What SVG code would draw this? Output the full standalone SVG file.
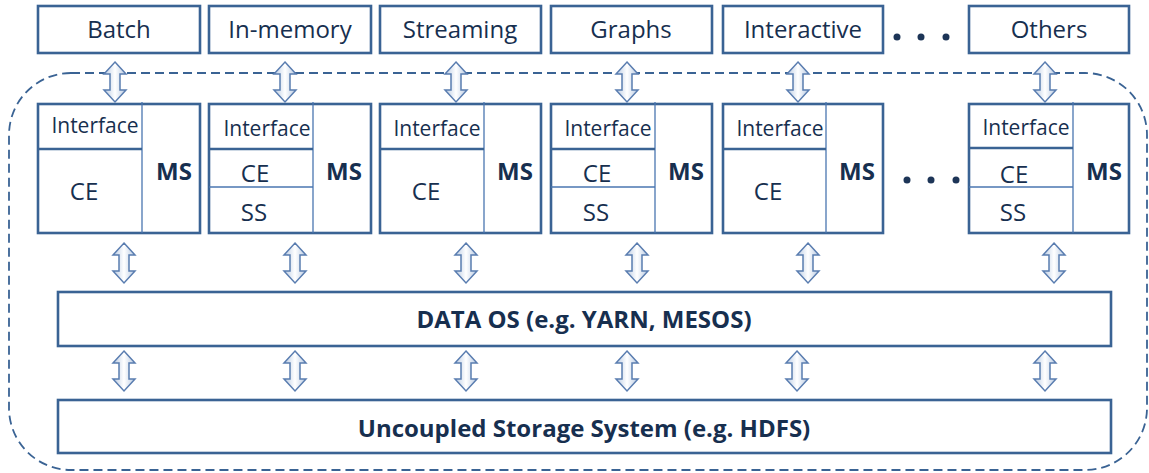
<svg xmlns="http://www.w3.org/2000/svg" xmlns:xlink="http://www.w3.org/1999/xlink" width="1149" height="473" viewBox="0 0 1149 473">
<style>
.box{fill:#fff;stroke:#3a6394;stroke-width:2.6}
.div{stroke:#4a76b0;stroke-width:1.3;fill:none}
.ifl{stroke:#3a6394;stroke-width:2.6;fill:none}
.t{font-family:"Open Sans","Liberation Sans",sans-serif;fill:#172f4f;text-anchor:middle}
.top{font-size:24px}
.ifc{font-size:21px}
.ce{font-size:24px}
.ms{font-size:24px;font-weight:bold}
.big{font-size:24px;font-weight:bold}
.dot{fill:#1d3557}
.arr{fill:url(#ag);stroke:#5a7db0;stroke-width:1.5;stroke-linejoin:miter}
.border{fill:none;stroke:#3a6394;stroke-width:1.8;stroke-dasharray:9 5}
</style>
<defs>
<linearGradient id="ag" x1="0" y1="0" x2="1" y2="0">
<stop offset="0" stop-color="#b7c9e2"/>
<stop offset="0.5" stop-color="#ffffff"/>
<stop offset="1" stop-color="#b7c9e2"/>
</linearGradient>
<path id="arr" class="arr" d="M0,0 L11,12 L5,12 L5,28 L11,28 L0,40 L-11,28 L-5,28 L-5,12 L-11,12 Z"/>
</defs>

<rect class="border" x="9" y="73" width="1138" height="397" rx="62" ry="62"/>

<g id="batch"><rect class="box" x="38" y="6" width="162" height="47"/><text class="t top" x="119" y="38">Batch</text></g>
<g id="inmemory"><rect class="box" x="209" y="6" width="162" height="47"/><text class="t top" x="290" y="38">In-memory</text></g>
<g id="streaming"><rect class="box" x="380" y="6" width="161" height="47"/><text class="t top" x="460" y="38">Streaming</text></g>
<g id="graphs"><rect class="box" x="551" y="6" width="161" height="47"/><text class="t top" x="631" y="38">Graphs</text></g>
<g id="interactive"><rect class="box" x="723" y="6" width="160" height="47"/><text class="t top" x="803" y="38">Interactive</text></g>
<g id="dots-top"><circle class="dot" cx="897" cy="37" r="3.5"/><circle class="dot" cx="921" cy="37" r="3.5"/><circle class="dot" cx="946" cy="37" r="3.5"/></g>
<g id="others"><rect class="box" x="969" y="6" width="160" height="47"/><text class="t top" x="1049" y="38">Others</text></g>

<g id="engine1">
<rect class="box" x="38" y="104" width="162" height="129"/>
<line class="div" x1="142" y1="102" x2="142" y2="233"/>
<line class="ifl" x1="38" y1="149" x2="142" y2="149"/>
<text class="t ifc" x="95" y="133">Interface</text>
<text class="t ce" x="84" y="200">CE</text>
<text class="t ms" x="174" y="180">MS</text>
</g>
<g id="engine2">
<rect class="box" x="209" y="104" width="162" height="129"/>
<line class="div" x1="313" y1="102" x2="313" y2="233"/>
<line class="ifl" x1="209" y1="149" x2="313" y2="149"/>
<line class="div" x1="209" y1="187" x2="313" y2="187"/>
<text class="t ifc" x="267" y="136">Interface</text>
<text class="t ce" x="255" y="182">CE</text>
<text class="t ce" x="254" y="221">SS</text>
<text class="t ms" x="344" y="180">MS</text>
</g>
<g id="engine3">
<rect class="box" x="380" y="104" width="161" height="129"/>
<line class="div" x1="484" y1="102" x2="484" y2="233"/>
<line class="ifl" x1="380" y1="149" x2="484" y2="149"/>
<text class="t ifc" x="437" y="136">Interface</text>
<text class="t ce" x="426" y="200">CE</text>
<text class="t ms" x="515" y="180">MS</text>
</g>
<g id="engine4">
<rect class="box" x="551" y="104" width="161" height="129"/>
<line class="div" x1="655" y1="102" x2="655" y2="233"/>
<line class="ifl" x1="551" y1="149" x2="655" y2="149"/>
<line class="div" x1="551" y1="187" x2="655" y2="187"/>
<text class="t ifc" x="608" y="136">Interface</text>
<text class="t ce" x="597" y="182">CE</text>
<text class="t ce" x="596" y="221">SS</text>
<text class="t ms" x="686" y="180">MS</text>
</g>
<g id="engine5">
<rect class="box" x="723" y="104" width="160" height="129"/>
<line class="div" x1="826" y1="102" x2="826" y2="233"/>
<line class="ifl" x1="723" y1="149" x2="826" y2="149"/>
<text class="t ifc" x="780" y="136">Interface</text>
<text class="t ce" x="768" y="200">CE</text>
<text class="t ms" x="857" y="180">MS</text>
</g>
<g id="dots-mid"><circle class="dot" cx="907" cy="180" r="3.5"/><circle class="dot" cx="931" cy="180" r="3.5"/><circle class="dot" cx="956" cy="180" r="3.5"/></g>
<g id="engine6">
<rect class="box" x="969" y="104" width="160" height="129"/>
<line class="div" x1="1073" y1="102" x2="1073" y2="233"/>
<line class="ifl" x1="969" y1="148" x2="1073" y2="148"/>
<line class="div" x1="969" y1="187" x2="1073" y2="187"/>
<text class="t ifc" x="1026" y="135">Interface</text>
<text class="t ce" x="1014" y="183">CE</text>
<text class="t ce" x="1013" y="221">SS</text>
<text class="t ms" x="1104" y="180">MS</text>
</g>

<g id="dataos"><rect class="box" x="58" y="292" width="1053" height="54"/><text class="t big" x="584" y="328">DATA OS (e.g. YARN, MESOS)</text></g>
<g id="storage"><rect class="box" x="58" y="400" width="1053" height="53"/><text class="t big" x="584" y="437">Uncoupled Storage System (e.g. HDFS)</text></g>

<g id="connectors">
<use xlink:href="#arr" x="115" y="62"/>
<use xlink:href="#arr" x="285" y="62"/>
<use xlink:href="#arr" x="456" y="62"/>
<use xlink:href="#arr" x="627" y="62"/>
<use xlink:href="#arr" x="798" y="62"/>
<use xlink:href="#arr" x="1045" y="62"/>
<use xlink:href="#arr" x="124" y="243"/>
<use xlink:href="#arr" x="295" y="243"/>
<use xlink:href="#arr" x="466" y="243"/>
<use xlink:href="#arr" x="637" y="243"/>
<use xlink:href="#arr" x="808" y="243"/>
<use xlink:href="#arr" x="1054" y="243"/>
<use xlink:href="#arr" x="124" y="351"/>
<use xlink:href="#arr" x="295" y="351"/>
<use xlink:href="#arr" x="466" y="351"/>
<use xlink:href="#arr" x="627" y="351"/>
<use xlink:href="#arr" x="797" y="351"/>
<use xlink:href="#arr" x="1045" y="351"/>
</g>
</svg>
